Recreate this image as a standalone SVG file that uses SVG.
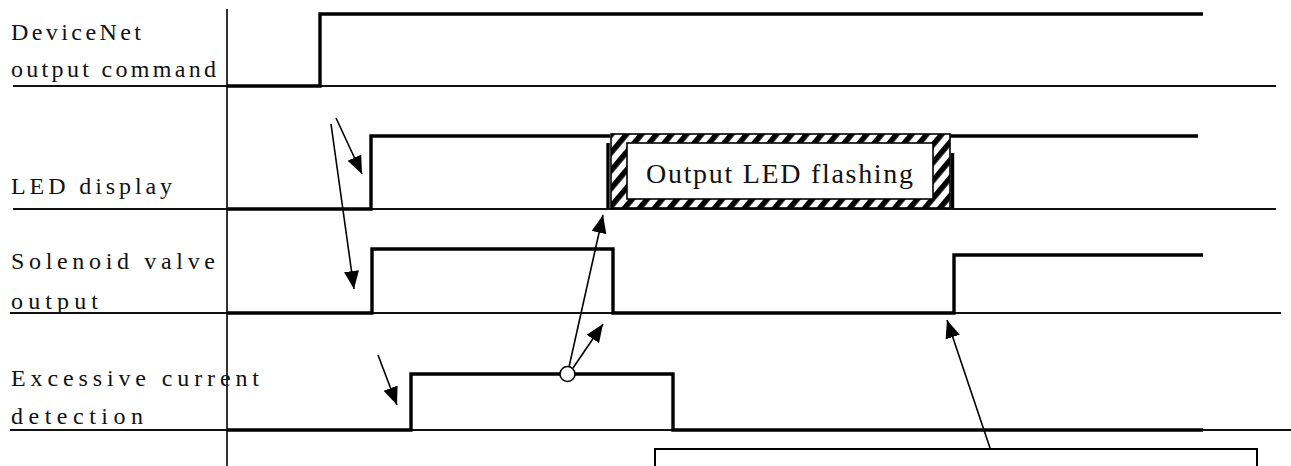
<svg xmlns="http://www.w3.org/2000/svg" width="1291" height="466" viewBox="0 0 1291 466">
  <style>
    .lbl { font-family: "Liberation Serif", "DejaVu Serif", serif; font-size: 24px; fill: #111; }
    .box-text { font-family: "Liberation Serif", "DejaVu Serif", serif; font-size: 28px; fill: #111; }
    .grid { stroke: #111; stroke-width: 2; fill: none; }
    .axis { stroke: #000; stroke-width: 1.6; fill: none; }
    .sig { stroke: #000; stroke-width: 3.4; fill: none; stroke-linejoin: miter; }
    .arr { stroke: #000; stroke-width: 1.6; fill: none; marker-end: url(#ah); }
  </style>
  <defs>
    <marker id="ah" markerUnits="userSpaceOnUse" markerWidth="20" markerHeight="16" refX="18" refY="7.5" orient="auto">
      <path d="M0,0 L18,7.5 L0,15 z" fill="#000"/>
    </marker>
    <pattern id="hatch" patternUnits="userSpaceOnUse" width="11.5" height="11.5" patternTransform="rotate(40)">
      <rect x="0" y="0" width="11.5" height="11.5" fill="#fff"/>
      <rect x="0" y="0" width="5.5" height="11.5" fill="#000"/>
    </pattern>
  </defs>

  <g id="frame">
    <line class="axis" x1="227" y1="9" x2="227" y2="466"/>
    <line class="grid" x1="13" y1="86" x2="1276" y2="86"/>
    <line class="grid" x1="13" y1="209" x2="1276" y2="209"/>
    <line class="grid" x1="10" y1="313" x2="1281" y2="313"/>
    <line class="grid" x1="10" y1="430" x2="1291" y2="430"/>
  </g>

  <g id="labels">
    <text class="lbl" x="11" y="40" textLength="130">DeviceNet</text>
    <text class="lbl" x="11" y="77" textLength="205">output command</text>
    <text class="lbl" x="11" y="194" textLength="161">LED display</text>
    <text class="lbl" x="11" y="269" textLength="204">Solenoid valve</text>
    <text class="lbl" x="11" y="309" textLength="87">output</text>
    <text class="lbl" x="11" y="386" textLength="248">Excessive current</text>
    <text class="lbl" x="11" y="424" textLength="132">detection</text>
  </g>

  <g id="signal-devicenet">
    <polyline class="sig" points="227,86 320,86 320,14 1203,14"/>
  </g>

  <g id="signal-led">
    <polyline class="sig" points="227,209 371,209 371,136 610,136"/>
    <line class="sig" x1="608" y1="143" x2="608" y2="208"/>
    <line class="sig" x1="950" y1="136" x2="1198" y2="136"/>
    <line class="sig" x1="952.5" y1="153" x2="952.5" y2="208"/>
  </g>

  <g id="led-flashing">
    <rect x="611" y="134" width="339" height="74" fill="url(#hatch)" stroke="#000" stroke-width="1.6"/>
    <rect x="627" y="143" width="306" height="56" fill="#fff" stroke="#000" stroke-width="1.6"/>
    <text class="box-text" x="646" y="183" textLength="267">Output LED flashing</text>
  </g>

  <g id="signal-solenoid">
    <polyline class="sig" points="227,313 372,313 372,249 613,249 613,313 954,313 954,255 1203,255"/>
  </g>

  <g id="signal-current">
    <polyline class="sig" points="227,430 411,430 411,374 673,374 673,430 1203,430"/>
  </g>

  <g id="note-box">
    <rect x="655" y="449" width="602" height="40" fill="#fff" stroke="#000" stroke-width="2"/>
  </g>

  <g id="connectors">
    <line class="arr" x1="336" y1="118" x2="362" y2="174"/>
    <line class="arr" x1="331" y1="124" x2="354" y2="289"/>
    <line class="arr" x1="378" y1="355" x2="397" y2="405"/>
    <line class="arr" x1="569" y1="367" x2="603" y2="215"/>
    <line class="arr" x1="573" y1="368" x2="603" y2="324"/>
    <line class="arr" x1="990" y1="448" x2="947" y2="320"/>
  </g>

  <g id="detect-point">
    <circle cx="567.5" cy="374" r="7.5" fill="#fff" stroke="#000" stroke-width="1.6"/>
  </g>
</svg>
